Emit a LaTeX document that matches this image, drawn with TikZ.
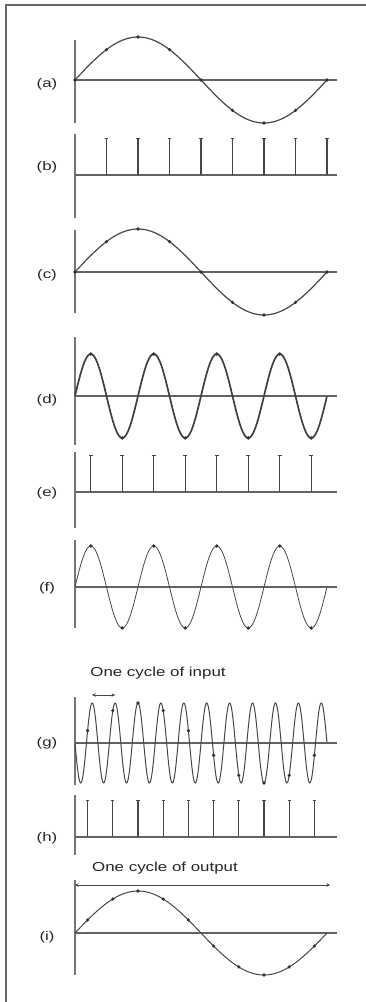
\documentclass[tikz,border=0pt]{standalone}
\usepackage{fontspec}
\setmainfont{Liberation Sans}
\usetikzlibrary{arrows.meta}
\definecolor{ink}{HTML}{474747}
\definecolor{txt}{HTML}{262626}
\tikzset{
  axisline/.style={draw=ink!85, line width=1.1pt},
  vaxis/.style={draw=ink!75, line width=1.1pt},
  wave/.style={draw=ink, line width=1.2pt},
  thickwave/.style={draw=ink!90!black, line width=1.7pt},
  thinwave/.style={draw=ink, line width=0.8pt},
  stemline/.style={draw=ink, line width=1.1pt},
  sdot/.style={circle, fill=ink!70!black, inner sep=0pt, minimum size=3.6pt},
  lbl/.style={text=txt, font=\fontsize{12.5}{15}\selectfont, inner sep=0pt},
  captext/.style={text=txt, font=\fontsize{13}{16}\selectfont, inner sep=0pt},
  spanarrow/.style={draw=ink, line width=1pt, {Stealth[length=3.5pt,width=3.5pt]}-{Stealth[length=3.5pt,width=3.5pt]}},
}
\begin{document}
\begin{tikzpicture}[x=1pt,y=-1pt]
\useasboundingbox (0,0) rectangle (366,1002);
% frame
\draw[draw=gray!80!black, line width=2pt] (6,1002) -- (6,5) -- (366,5);

% labels
\node[lbl] (la) at (47,84)  {\scalebox{1.35}[1]{(a)}};
\node[lbl] (lb) at (47,167) {\scalebox{1.35}[1]{(b)}};
\node[lbl] (lc) at (47,275) {\scalebox{1.35}[1]{(c)}};
\node[lbl] (ld) at (47,400) {\scalebox{1.35}[1]{(d)}};
\node[lbl] (le) at (47,493) {\scalebox{1.35}[1]{(e)}};
\node[lbl] (lf) at (47,588) {\scalebox{1.35}[1]{(f)}};
\node[lbl] (lg) at (47,743) {\scalebox{1.35}[1]{(g)}};
\node[lbl] (lh) at (47,838) {\scalebox{1.35}[1]{(h)}};
\node[lbl] (li) at (47,937) {\scalebox{1.35}[1]{(i)}};

% vertical axes
\draw[vaxis] (75,40) -- (75,123);
\draw[vaxis] (75,134) -- (75,218);
\draw[vaxis] (75,230) -- (75,313);
\draw[vaxis] (75,337) -- (75,445);
\draw[vaxis] (75,452) -- (75,528);
\draw[vaxis] (75,540) -- (75,628);
\draw[vaxis] (75,697) -- (75,785);
\draw[vaxis] (75,795) -- (75,855);
\draw[vaxis] (75,880) -- (75,975);

% (a)
\draw[axisline] (75,80) -- (337,80);
\draw[wave] plot[domain=0:1, samples=120, smooth] ({75+252*\x},{80-43*sin(360*\x)});
\foreach \k in {0,...,8} \node[sdot] at ({75+31.5*\k},{80-43*sin(45*\k)}) {};

% (b)
\draw[axisline] (75,175) -- (337,175);
\foreach \k in {1,...,8} {
  \draw[stemline] ({75+31.5*\k},175) -- ({75+31.5*\k},138);
  \draw[stemline, line width=0.9pt] ({75+31.5*\k-1.8},138) -- ({75+31.5*\k+1.8},138);
}

% (c)
\draw[axisline] (75,272) -- (337,272);
\draw[wave] plot[domain=0:1, samples=120, smooth] ({75+252*\x},{272-43*sin(360*\x)});
\foreach \k in {0,...,8} \node[sdot] at ({75+31.5*\k},{272-43*sin(45*\k)}) {};

% (d)
\draw[axisline] (75,396) -- (337,396);
\draw[thickwave] plot[domain=0:1, samples=240, smooth] ({75+252*\x},{396-42*sin(1440*\x)});
\foreach \k in {0,...,7} \node[sdot] at ({75+31.5*(\k+0.5)},{396-42*sin(180*(\k+0.5))}) {};

% (e)
\draw[axisline] (75,492) -- (337,492);
\foreach \k in {0,...,7} {
  \draw[stemline] ({75+31.5*(\k+0.5)},492) -- ({75+31.5*(\k+0.5)},455);
  \draw[stemline, line width=0.9pt] ({75+31.5*(\k+0.5)-1.8},455) -- ({75+31.5*(\k+0.5)+1.8},455);
}

% (f)
\draw[axisline] (75,587) -- (337,587);
\draw[thinwave] plot[domain=0:1, samples=240, smooth] ({75+252*\x},{587-41*sin(1440*\x)});
\foreach \k in {0,...,7} \node[sdot] at ({75+31.5*(\k+0.5)},{587-41*sin(180*(\k+0.5))}) {};

% input caption and span
\node[captext] (cin) at (158,673) {\scalebox{1.3}[1]{One cycle of input}};
\coordinate (ia) at (92.2,695);
\coordinate (ib) at (115.1,695);
\draw[spanarrow] (ia) -- (ib);

% (g)
\draw[axisline] (75,743) -- (337,743);
\draw[wave, line width=1pt] plot[domain=0:1, samples=600, smooth] ({75+252*\x},{743+40*sin(3960*\x)});
\foreach \k in {0,...,9} \node[sdot] at ({75+25.2*(\k+0.5)},{743-40*sin(36*(\k+0.5))}) {};

% (h)
\draw[axisline] (75,837) -- (337,837);
\foreach \k in {0,...,9} {
  \draw[stemline] ({75+25.2*(\k+0.5)},837) -- ({75+25.2*(\k+0.5)},800);
  \draw[stemline, line width=0.9pt] ({75+25.2*(\k+0.5)-1.6},800) -- ({75+25.2*(\k+0.5)+1.6},800);
}

% output caption and span
\node[captext] (cout) at (165,868) {\scalebox{1.3}[1]{One cycle of output}};
\coordinate (oa) at (75,885);
\coordinate (ob) at (330,885);
\draw[spanarrow] (oa) -- (ob);

% (i)
\draw[axisline] (75,933) -- (337,933);
\draw[wave, line width=1pt] plot[domain=0:1, samples=120, smooth] ({75+252*\x},{933-42*sin(360*\x)});
\foreach \k in {0,...,9} \node[sdot] at ({75+25.2*(\k+0.5)},{933-42*sin(36*(\k+0.5))}) {};
\end{tikzpicture}
\end{document}
